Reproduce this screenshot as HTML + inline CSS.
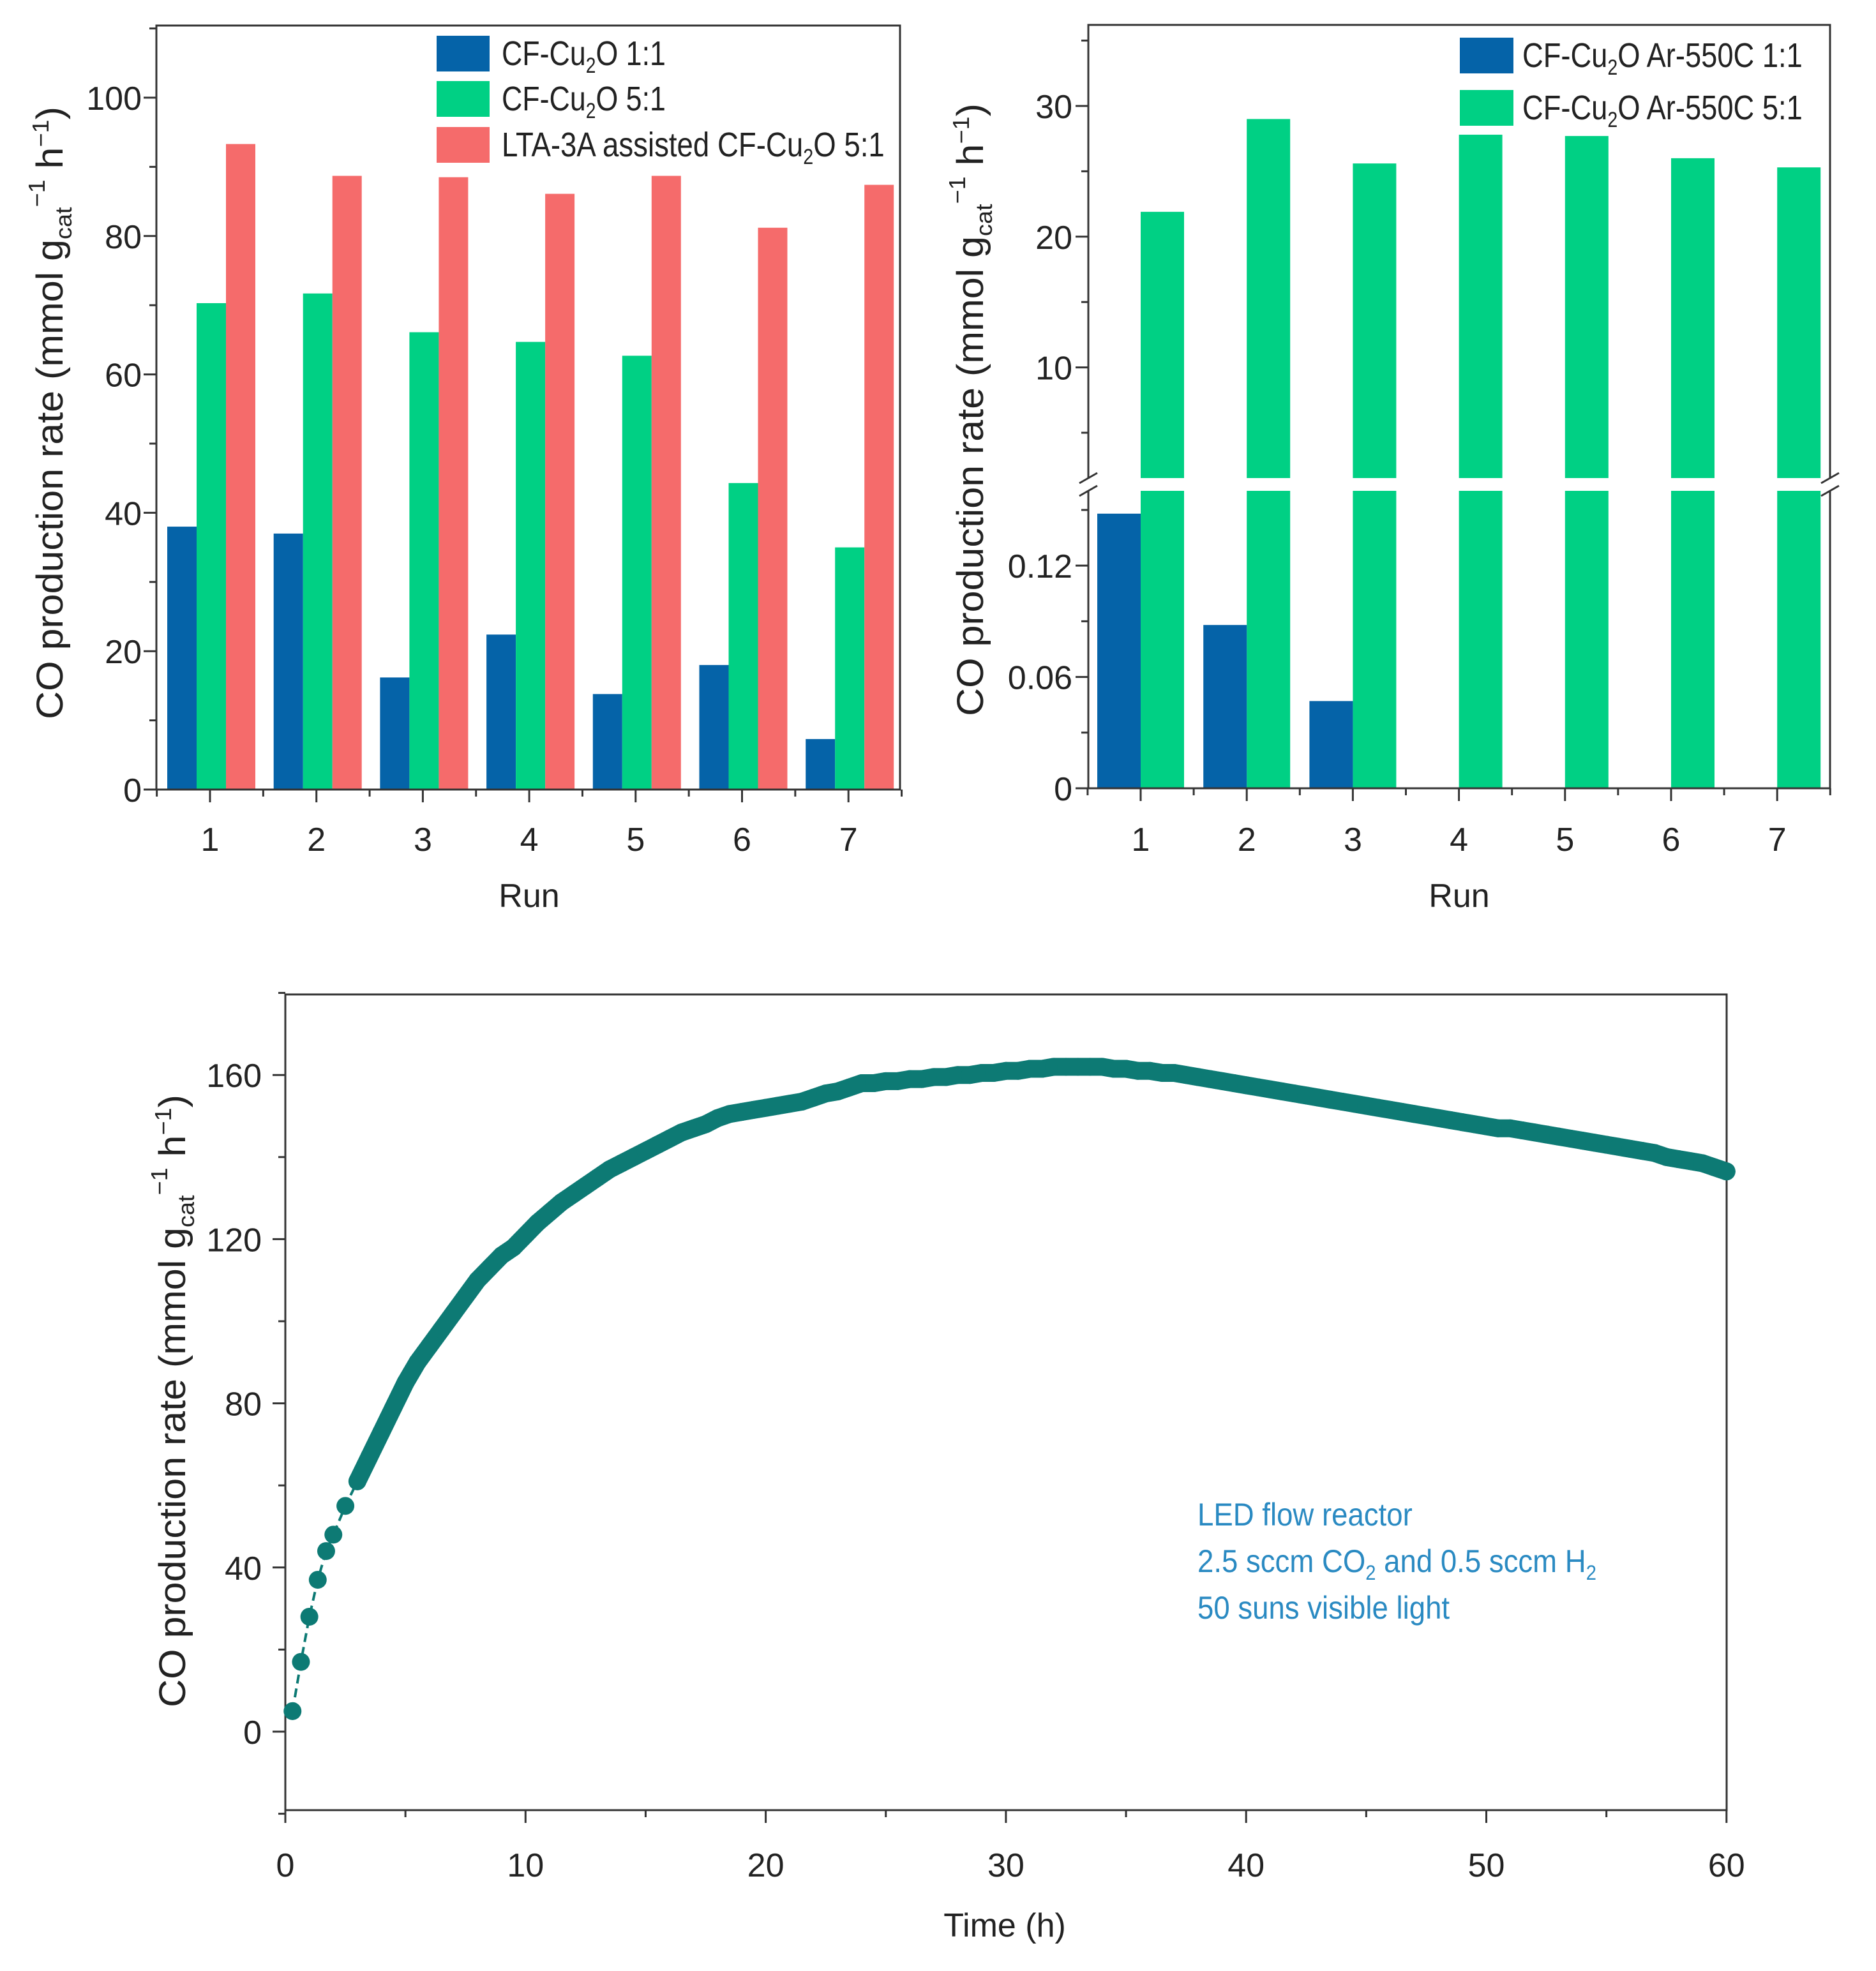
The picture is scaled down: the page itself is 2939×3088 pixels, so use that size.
<!DOCTYPE html>
<html><head><meta charset="utf-8"><title>CO production rate charts</title>
<style>
html,body{margin:0;padding:0;background:#fff;}
svg{display:block;font-family:"Liberation Sans",Arial,sans-serif;}
</style></head>
<body>
<svg id="fig" width="2939" height="3088" viewBox="0 0 2939 3088" xmlns="http://www.w3.org/2000/svg">
<rect width="2939" height="3088" fill="#fff"/>
</svg>
<script>
// ---------- Chart A data ----------
const runsA = [1,2,3,4,5,6,7];
const cu11 = [38, 37, 16.2, 22.4, 13.8, 18, 7.3];
const cu51 = [70.3, 71.7, 66.1, 64.7, 62.7, 44.3, 35];
const lta51 = [93.3, 88.7, 88.5, 86.1, 88.7, 81.2, 87.4];
const ticksA = [0, 20, 40, 60, 80, 100];
// ---------- Chart B data ----------
const runsB = [1,2,3,4,5,6,7];
const ar11 = [0.148, 0.088, 0.047, 0, 0, 0, 0];
const ar51 = [21.9, 29, 25.6, 27.8, 27.7, 26, 25.3];
const ticksBUpper = [10, 20, 30];
const ticksBLower = [0, 0.06, 0.12];
// ---------- Chart C data ----------
const earlyTimes = [0.3, 0.65, 1.0, 1.35, 1.7];
const earlyRates = [5, 17, 28, 37, 44];
const denseStart = 2, denseStep = 0.5;
const denseRates = [48,55,61,67,73,79,85,90,94,98,102,106,110,113,116,118,121,124,126.5,129,131,133,135,137,138.5,140,141.5,143,144.5,146,147,148,149.5,150.5,151,151.5,152,152.5,153,153.5,154.5,155.5,156,157,158,158,158.5,158.5,159,159,159.5,159.5,160,160,160.5,160.5,161,161,161.5,161.5,162,162,162,162,162,161.5,161.5,161,161,160.5,160.5,160,159.5,159,158.5,158,157.5,157,156.5,156,155.5,155,154.5,154,153.5,153,152.5,152,151.5,151,150.5,150,149.5,149,148.5,148,147.5,147,147,146.5,146,145.5,145,144.5,144,143.5,143,142.5,142,141.5,141,140,139.5,139,138.5,137.5,136.5];
const ticksCX = [0, 10, 20, 30, 40, 50, 60];
const ticksCY = [0, 40, 80, 120, 160];

const NS = "http://www.w3.org/2000/svg";
const svg = document.getElementById('fig');
function mk(tag, attrs, parent) {
  const el = document.createElementNS(NS, tag);
  for (const k in attrs) el.setAttribute(k, attrs[k]);
  (parent || svg).appendChild(el);
  return el;
}
function fitWidth(t, x, y, target) {
  const w = t.getBBox().width;
  if (w > 0) t.setAttribute('transform', `translate(${x},${y}) scale(${target / w},1) translate(${-x},${-y})`);
}
const AX = "#333";
function group(name) {
  const g = mk('g', {});
  
  
  return g;
}
function yTitle(g, x, y) {
  const t = mk('text', {transform: `translate(${x},${y}) rotate(-90)`, 'text-anchor': 'middle', 'font-size': 58, fill: '#222'}, g);
  
  
  t.innerHTML = 'CO production rate (mmol g<tspan font-size="36" dy="14">cat</tspan><tspan font-size="36" dy="-42">−1</tspan><tspan dy="28"> h</tspan><tspan font-size="36" dy="-22">−1</tspan><tspan dy="22">)</tspan>';
  const w = t.getBBox().width;
  if (w > 0) t.setAttribute('transform', `translate(${x},${y}) rotate(-90) scale(${960 / w},1)`);
}

// ================= Chart A =================
(function(){
  const g = group('chart-run-stability');
  const L = 245, R = 1410, T = 40, B = 1237;
  const yA = v => B - v * 10.84;
  const xA = r => 329 + (r - 1) * 166.7;
  const bw = 46;
  const series = [[cu11, '#0563a8', -44, 'bar-cf-cu2o-1-1'], [cu51, '#00d084', 2, 'bar-cf-cu2o-5-1'], [lta51, '#f56b6b', 48, 'bar-lta-3a-5-1']];
  series.forEach(s => {
    s[0].forEach((v, i) => {
      const r = mk('rect', {x: xA(runsA[i]) + s[2] - bw/2, y: yA(v), width: bw, height: yA(0) - yA(v), fill: s[1]}, g);
      
      
    });
  });
  const fr = mk('rect', {x: L, y: T, width: R - L, height: B - T, fill: 'none', stroke: AX, 'stroke-width': 3}, g);
  
  
  for (let v = 0; v <= 110; v += 10) {
    const major = v % 20 === 0;
    const tk = mk('line', {x1: L, x2: L - (major ? 20 : 11), y1: yA(v), y2: yA(v), stroke: AX, 'stroke-width': 3}, g);
    
    
  }
  ticksA.forEach(v => {
    const t = mk('text', {x: 222, y: yA(v) + 19, 'text-anchor': 'end', 'font-size': 52, fill: '#222'}, g);
    
    
    t.textContent = v;
  });
  for (let r = 0.5; r <= 7.5; r += 0.5) {
    const major = Number.isInteger(r);
    const tk = mk('line', {x1: xA(r), x2: xA(r), y1: B, y2: B + (major ? 20 : 11), stroke: AX, 'stroke-width': 3}, g);
    
    
  }
  runsA.forEach(r => {
    const t = mk('text', {x: xA(r), y: 1333, 'text-anchor': 'middle', 'font-size': 52, fill: '#222'}, g);
    
    
    t.textContent = r;
  });
  const xt = mk('text', {x: 829, y: 1421, 'text-anchor': 'middle', 'font-size': 52, fill: '#222'}, g);
  
  
  xt.textContent = 'Run';
  yTitle(g, 98, 647);
  const leg = [['#0563a8', 'CF-Cu<tspan font-size="34" dy="12">2</tspan><tspan dy="-12">O 1:1</tspan>', 56, 257], ['#00d084', 'CF-Cu<tspan font-size="34" dy="12">2</tspan><tspan dy="-12">O 5:1</tspan>', 127, 257], ['#f56b6b', 'LTA-3A assisted CF-Cu<tspan font-size="34" dy="12">2</tspan><tspan dy="-12">O 5:1</tspan>', 199, 600]];
  leg.forEach(l => {
    const sw = mk('rect', {x: 684, y: l[2], width: 83, height: 56, fill: l[0]}, g);
    
    
    const t = mk('text', {x: 786, y: l[2] + 46, 'font-size': 54, fill: '#222'}, g);
    
    
    t.innerHTML = l[1];
    fitWidth(t, 786, l[2] + 46, l[3]);
  });
})();

// ================= Chart B =================
(function(){
  const g = group('chart-ar550-stability');
  const L = 1705, R = 2867, T = 39, B = 1235, BRK1 = 749, BRK2 = 769;
  const yU = v => T + (36.2 - v) * 20.48;
  const yL = v => B - v * 2907;
  const xB = r => 1787 + (r - 1) * 166.2;
  const bw = 68;
  ar51.forEach((v, i) => {
    const top = mk('rect', {x: xB(runsB[i]), y: yU(v), width: bw, height: BRK1 - yU(v), fill: '#00d084'}, g);
    
    
    const bot = mk('rect', {x: xB(runsB[i]), y: BRK2, width: bw, height: B - BRK2, fill: '#00d084'}, g);
    
    
  });
  ar11.forEach((v, i) => {
    const r = mk('rect', {x: xB(runsB[i]) - bw, y: yL(v), width: bw, height: B - yL(v), fill: '#0563a8'}, g);
    
    
  });
  const frame = mk('path', {d: `M${L},${BRK1} V${T} H${R} V${BRK1} M${L},${BRK2} V${B} H${R} V${BRK2}`, fill: 'none', stroke: AX, 'stroke-width': 3}, g);
  
  
  [L, R].forEach(x => {
    const br = mk('path', {d: `M${x-14},${BRK1+8} L${x+14},${BRK1-8} M${x-14},${BRK2+8} L${x+14},${BRK2-8}`, stroke: AX, 'stroke-width': 3, fill: 'none'}, g);
    
    
  });
  for (let v = 5; v <= 35; v += 5) {
    const major = v % 10 === 0;
    const tk = mk('line', {x1: L, x2: L - (major ? 20 : 11), y1: yU(v), y2: yU(v), stroke: AX, 'stroke-width': 3}, g);
    
    
  }
  for (let k = 0; k <= 5; k++) {
    const v = k * 0.03;
    const tk = mk('line', {x1: L, x2: L - (k % 2 === 0 ? 20 : 11), y1: yL(v), y2: yL(v), stroke: AX, 'stroke-width': 3}, g);
    
    
  }
  ticksBUpper.forEach(v => {
    const t = mk('text', {x: 1680, y: yU(v) + 19, 'text-anchor': 'end', 'font-size': 52, fill: '#222'}, g);
    
    
    t.textContent = v;
  });
  ticksBLower.forEach(v => {
    const t = mk('text', {x: 1680, y: yL(v) + 19, 'text-anchor': 'end', 'font-size': 52, fill: '#222'}, g);
    
    
    t.textContent = v;
  });
  for (let r = 0.5; r <= 7.5; r += 0.5) {
    const major = Number.isInteger(r);
    const tk = mk('line', {x1: xB(r), x2: xB(r), y1: B, y2: B + (major ? 20 : 11), stroke: AX, 'stroke-width': 3}, g);
    
    
  }
  runsB.forEach(r => {
    const t = mk('text', {x: xB(r), y: 1333, 'text-anchor': 'middle', 'font-size': 52, fill: '#222'}, g);
    
    
    t.textContent = r;
  });
  const xt = mk('text', {x: 2286, y: 1421, 'text-anchor': 'middle', 'font-size': 52, fill: '#222'}, g);
  
  
  xt.textContent = 'Run';
  yTitle(g, 1540, 642);
  const leg = [['#0563a8', 'CF-Cu<tspan font-size="34" dy="12">2</tspan><tspan dy="-12">O Ar-550C 1:1</tspan>', 59], ['#00d084', 'CF-Cu<tspan font-size="34" dy="12">2</tspan><tspan dy="-12">O Ar-550C 5:1</tspan>', 141]];
  leg.forEach(l => {
    const sw = mk('rect', {x: 2287, y: l[2], width: 84, height: 56, fill: l[0]}, g);
    
    
    const t = mk('text', {x: 2385, y: l[2] + 46, 'font-size': 54, fill: '#222'}, g);
    
    
    t.innerHTML = l[1];
    fitWidth(t, 2385, l[2] + 46, 439);
  });
})();

// ================= Chart C =================
(function(){
  const g = group('chart-time-course');
  const L = 447, R = 2705, T = 1558, B = 2836;
  const xC = t => L + t * 37.63;
  const yC = v => 2713 - v * 6.43;
  const fr = mk('rect', {x: L, y: T, width: R - L, height: B - T, fill: 'none', stroke: AX, 'stroke-width': 3}, g);
  
  
  for (let v = -20; v <= 180; v += 20) {
    const major = v % 40 === 0;
    const tk = mk('line', {x1: L, x2: L - (major ? 20 : 11), y1: yC(v), y2: yC(v), stroke: AX, 'stroke-width': 3}, g);
    
    
  }
  ticksCY.forEach(v => {
    const t = mk('text', {x: 410, y: yC(v) + 19, 'text-anchor': 'end', 'font-size': 52, fill: '#222'}, g);
    
    
    t.textContent = v;
  });
  for (let t = 0; t <= 60; t += 5) {
    const major = t % 10 === 0;
    const tk = mk('line', {x1: xC(t), x2: xC(t), y1: B, y2: B + (major ? 20 : 11), stroke: AX, 'stroke-width': 3}, g);
    
    
  }
  ticksCX.forEach(v => {
    const t = mk('text', {x: xC(v), y: 2940, 'text-anchor': 'middle', 'font-size': 52, fill: '#222'}, g);
    
    
    t.textContent = v;
  });
  const xt = mk('text', {x: 1574, y: 3034, 'text-anchor': 'middle', 'font-size': 52, fill: '#222'}, g);
  
  
  xt.textContent = 'Time (h)';
  yTitle(g, 290, 2195);
  const pts = [];
  earlyTimes.forEach((t, i) => pts.push([t, earlyRates[i]]));
  const dense = [];
  denseRates.forEach((v, i) => { pts.push([denseStart + i * denseStep, v]); dense.push([denseStart + i * denseStep, v]); });
  const ln = mk('polyline', {points: pts.map(p => xC(p[0]) + ',' + yC(p[1])).join(' '), fill: 'none', stroke: '#0d7a74', 'stroke-width': 4, 'stroke-dasharray': '14 8'}, g);
  
  
  const band = mk('polyline', {points: dense.slice(2).map(p => xC(p[0]) + ',' + yC(p[1])).join(' '), fill: 'none', stroke: '#0d7a74', 'stroke-width': 28, 'stroke-linejoin': 'round', 'stroke-linecap': 'round'}, g);
  
  
  pts.forEach(p => {
    const c = mk('circle', {cx: xC(p[0]), cy: yC(p[1]), r: 14, fill: '#0d7a74'}, g);
    
    
  });
  const ann = mk('text', {x: 1876, y: 2390, 'font-size': 50, fill: '#2a8ac2'}, g);
  
  
  ann.innerHTML = '<tspan x="1876" y="2390">LED flow reactor</tspan><tspan x="1876" y="2463">2.5 sccm CO<tspan font-size="32" dy="12">2</tspan><tspan dy="-12"> and 0.5 sccm H</tspan><tspan font-size="32" dy="12">2</tspan></tspan><tspan x="1876" y="2536">50 suns visible light</tspan>';
  fitWidth(ann, 1876, 2390, 625);
})();
</script>
</body></html>
